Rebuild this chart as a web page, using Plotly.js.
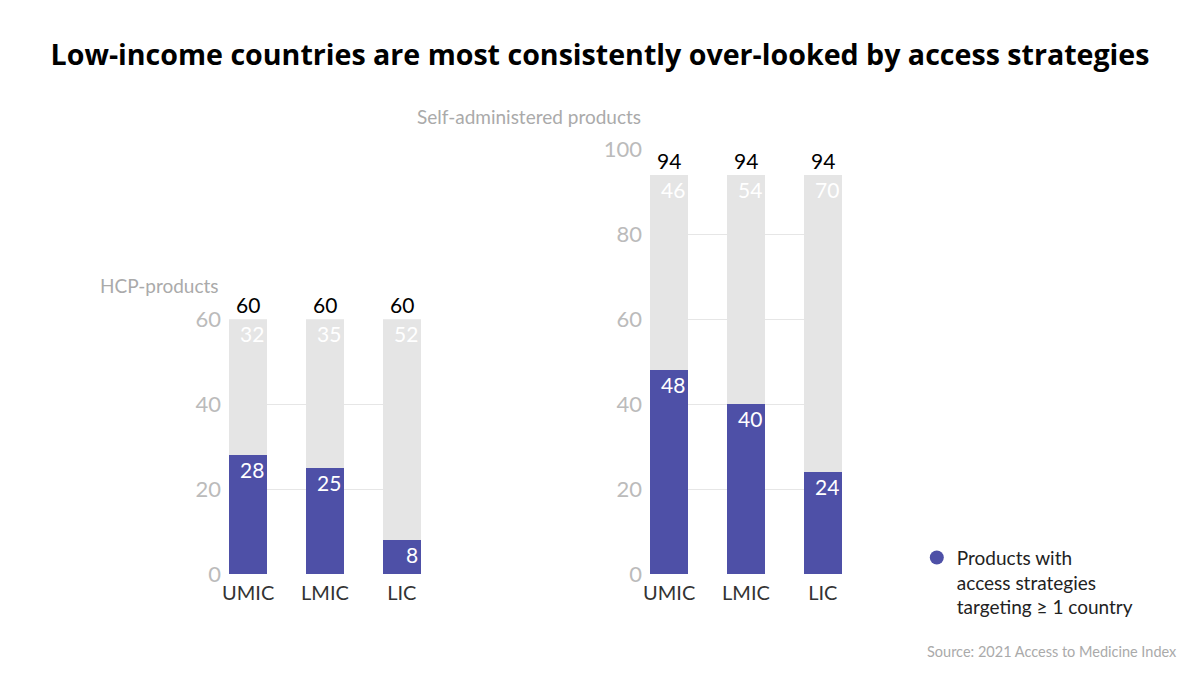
<!DOCTYPE html>
<html>
<head>
<meta charset="utf-8">
<script src="https://cdn.plot.ly/plotly-3.0.1.min.js"></script>
<style>
  html, body { margin: 0; padding: 0; background: #ffffff; }
  #chart { width: 1200px; height: 675px; }
</style>
</head>
<body>
<div id="chart"></div>
<script>
// Income groups shown in both panels
const incomeGroups = ['UMIC', 'LMIC', 'LIC'];

// HCP-administered products (60 in total)
const hcpWithStrategy = [28, 25, 8];
const hcpWithout = [32, 35, 52];

// Self-administered products (94 in total)
const selfWithStrategy = [48, 40, 24];
const selfWithout = [46, 54, 70];

const BLUE = '#4e50a7';
const GREY = '#e5e5e5';
const FONT = 'Lato, "Open Sans", sans-serif';
const TITLE_FONT = '"Open Sans", Lato, sans-serif';
const BAR_W = 0.5;

function panelTraces(withS, without, xa, ya) {
  return [
    { type: 'bar', x: incomeGroups, y: withS, xaxis: xa, yaxis: ya,
      width: BAR_W, marker: { color: BLUE, line: { width: 0 } },
      showlegend: false, hoverinfo: 'skip' },
    { type: 'bar', x: incomeGroups, y: without, xaxis: xa, yaxis: ya,
      width: BAR_W, marker: { color: GREY, line: { width: 0 } },
      showlegend: false, hoverinfo: 'skip' }
  ];
}

// Value labels: white inside each segment (top-right), black total above the bar
function panelLabels(withS, without, xa, ya) {
  const out = [];
  incomeGroups.forEach((g, i) => {
    const total = withS[i] + without[i];
    out.push({ xref: xa, yref: ya, x: i + BAR_W / 2, y: withS[i],
      text: String(withS[i]), showarrow: false, xanchor: 'right', yanchor: 'top',
      xshift: -1, font: { family: FONT, size: 21, color: '#ffffff' } });
    out.push({ xref: xa, yref: ya, x: i + BAR_W / 2, y: total,
      text: String(without[i]), showarrow: false, xanchor: 'right', yanchor: 'top',
      xshift: -1, font: { family: FONT, size: 21, color: '#ffffff' } });
    out.push({ xref: xa, yref: ya, x: i, y: total,
      text: String(total), showarrow: false, xanchor: 'center', yanchor: 'bottom',
      yshift: 0, font: { family: FONT, size: 21, color: '#000000' } });
  });
  return out;
}

const traces = [
  ...panelTraces(hcpWithStrategy, hcpWithout, 'x', 'y'),
  ...panelTraces(selfWithStrategy, selfWithout, 'x2', 'y2'),
  { type: 'scatter', x: [null], y: [null], mode: 'markers', xaxis: 'x2', yaxis: 'y2',
    name: 'Products with<br>access strategies<br>targeting ≥ 1 country',
    marker: { color: BLUE, size: 14, symbol: 'circle' }, hoverinfo: 'skip' }
];

const xBase = {
  type: 'category', range: [-0.25, 2.25], showgrid: false, zeroline: false,
  showline: false, ticks: '', fixedrange: true, ticklabelstandoff: 5,
  tickfont: { family: FONT, size: 20, color: '#333333' }
};
const yBase = {
  dtick: 20, showgrid: true, gridcolor: '#e6e6e6', gridwidth: 1, zeroline: false,
  showline: false, ticks: '', fixedrange: true, ticklabelstandoff: 7,
  tickfont: { family: FONT, size: 22, color: '#bbbbbb' }
};

const layout = {
  width: 1200, height: 675,
  margin: { l: 0, r: 0, t: 0, b: 0 },
  paper_bgcolor: '#ffffff', plot_bgcolor: '#ffffff',
  barmode: 'stack', bargap: 0,
  font: { family: FONT, color: '#333333' },
  title: {
    text: '<b>Low-income countries are most consistently over-looked by access strategies</b>',
    x: 0.5, xanchor: 'center', y: 0.918, yanchor: 'middle', yref: 'container',
    font: { family: TITLE_FONT, size: 28.6, color: '#000000' }
  },
  xaxis: Object.assign({}, xBase, { domain: [229 / 1200, 421 / 1200], anchor: 'y' }),
  yaxis: Object.assign({}, yBase, { domain: [0.1492, 0.527], range: [0, 60], anchor: 'x' }),
  xaxis2: Object.assign({}, xBase, { domain: [650 / 1200, 842 / 1200], anchor: 'y2' }),
  yaxis2: Object.assign({}, yBase, { domain: [0.1492, 0.7788], range: [0, 100], anchor: 'x2' }),
  showlegend: true,
  legend: {
    x: 0.764, y: 0.202, xanchor: 'left', yanchor: 'top', valign: 'top',
    bgcolor: 'rgba(0,0,0,0)', borderwidth: 0,
    font: { family: FONT, size: 19, color: '#222222' }
  },
  annotations: [
    ...panelLabels(hcpWithStrategy, hcpWithout, 'x', 'y'),
    ...panelLabels(selfWithStrategy, selfWithout, 'x2', 'y2'),
    { xref: 'x domain', yref: 'y domain', x: 0, y: 1, xanchor: 'right', yanchor: 'bottom',
      xshift: -8, yshift: 20, text: 'HCP-products', showarrow: false,
      font: { family: FONT, size: 19, color: '#aaaaaa' } },
    { xref: 'x2 domain', yref: 'y2 domain', x: 0, y: 1, xanchor: 'right', yanchor: 'bottom',
      xshift: -7, yshift: 19, text: 'Self-administered products', showarrow: false,
      font: { family: FONT, size: 19, color: '#aaaaaa' } },
    { xref: 'paper', yref: 'paper', x: 0.9825, y: 0.035, xanchor: 'right', yanchor: 'middle',
      text: 'Source: 2021 Access to Medicine Index', showarrow: false,
      font: { family: FONT, size: 14.5, color: '#aaaaaa' } }
  ]
};

Plotly.newPlot('chart', traces, layout, { displayModeBar: false, staticPlot: true });
</script>
</body>
</html>
